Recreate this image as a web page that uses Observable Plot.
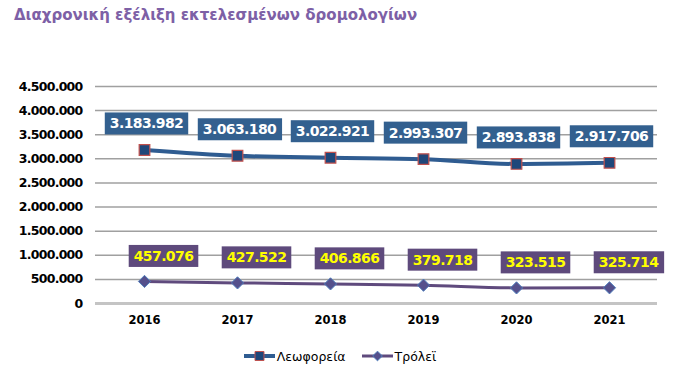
<!DOCTYPE html>
<html>
<head>
<meta charset="utf-8">
<script src="https://cdn.jsdelivr.net/npm/d3@7"></script>
<script src="https://cdn.jsdelivr.net/npm/@observablehq/plot@0.6"></script>
<style>
  html, body { margin: 0; padding: 0; background: #fff; }
  body { width: 695px; height: 366px; overflow: hidden; font-family: "DejaVu Sans", Verdana, sans-serif; }
  #title { height: 32px; line-height: 30px; padding-left: 14px; font-size: 15px; font-weight: bold; color: #7d60a6; white-space: nowrap; }
  #legend { height: 24px; padding-top: 8px; padding-right: 15px; display: flex; justify-content: center; align-items: center; gap: 16px; font-size: 12.5px; color: #000; }
  #legend .item { display: flex; align-items: center; gap: 2px; }
</style>
</head>
<body>
<div id="title">Διαχρονική εξέλιξη εκτελεσμένων δρομολογίων</div>
<div id="chart"></div>
<div id="legend"></div>
<script>
const years = ["2016", "2017", "2018", "2019", "2020", "2021"];
const busValues = [3183982, 3063180, 3022921, 2993307, 2893838, 2917706];
const trolleyValues = [457076, 427522, 406866, 379718, 323515, 325714];
const yTicks = [0, 500000, 1000000, 1500000, 2000000, 2500000, 3000000, 3500000, 4000000, 4500000];
const seriesNames = ["Λεωφορεία", "Τρόλεϊ"];

const busColor = "#2f5c91";
const busBox = "#33608f";
const trolleyColor = "#5f4a7d";
const trolleyBox = "#5e4a7c";

const locale = d3.formatLocale({decimal: ",", thousands: ".", grouping: [3], currency: ["", "€"]});
const fmt = locale.format(",d");

const bus = years.map((y, i) => ({year: y, value: busValues[i], series: seriesNames[0]}));
const trolley = years.map((y, i) => ({year: y, value: trolleyValues[i], series: seriesNames[1]}));

const chart = Plot.plot({
  width: 695,
  height: 304,
  marginTop: 54,
  marginBottom: 33,
  marginLeft: 95,
  marginRight: 38,
  style: {fontFamily: "'DejaVu Sans', Verdana, sans-serif", color: "#000", background: "#fff"},
  x: {type: "point", domain: years, padding: 0.5, label: null},
  y: {domain: [0, 4500000], label: null},
  marks: [
    Plot.ruleY(yTicks.filter(d => d > 0), {stroke: "#a0a0a0", strokeWidth: 1.5}),
    Plot.ruleY([0], {stroke: "#c4c4c4", strokeWidth: 3}),
    Plot.axisY(yTicks, {tickSize: 0, tickPadding: 13, tickFormat: fmt, fontSize: 12.5, fontWeight: "bold", label: null}),
    Plot.axisX(years, {tickSize: 0, tickPadding: 12, fontSize: 11.5, fontWeight: "bold", label: null}),
    Plot.line(bus, {x: "year", y: "value", stroke: busColor, strokeWidth: 4, curve: "monotone-x"}),
    Plot.line(trolley, {x: "year", y: "value", stroke: trolleyColor, strokeWidth: 3, curve: "monotone-x"}),
    Plot.dot(bus, {x: "year", y: "value", symbol: "square", r: 6, fill: "#1f477a", stroke: "#c0504d", strokeWidth: 1.2}),
    Plot.dot(trolley, {x: "year", y: "value", symbol: "diamond2", r: 5.5, fill: "#55508c", stroke: "#4f7fbd", strokeWidth: 1}),
    Plot.text(bus, {x: "year", y: "value", text: d => fmt(d.value), dx: 2, dy: -26, fill: "#fff", fontSize: 14, fontWeight: "bold"}),
    Plot.text(trolley, {x: "year", y: "value", text: d => fmt(d.value), dx: 19, dy: -25, fill: "#ffff00", fontSize: 14, fontWeight: "bold"})
  ]
});
document.getElementById("chart").appendChild(chart);

const yLabelSet = new Set(yTicks.map(fmt));
const busLabelSet = new Set(busValues.map(fmt));
const trolleyLabelSet = new Set(trolleyValues.map(fmt));

function addBox(t, color) {
  const b = t.getBBox();
  const padX = 5, padY = 3;
  const r = document.createElementNS("http://www.w3.org/2000/svg", "rect");
  r.setAttribute("x", b.x - padX);
  r.setAttribute("y", b.y - padY);
  r.setAttribute("width", b.width + 2 * padX);
  r.setAttribute("height", b.height + 2 * padY);
  r.setAttribute("fill", color);
  const tr = t.getAttribute("transform");
  if (tr) r.setAttribute("transform", tr);
  t.parentNode.insertBefore(r, t);
}
Array.from(chart.querySelectorAll("text")).forEach(t => {
  const s = t.textContent;
  if (yLabelSet.has(s)) t.setAttribute("letter-spacing", "-0.75");
  else if (busLabelSet.has(s)) { t.setAttribute("letter-spacing", "-0.6"); addBox(t, busBox); }
  else if (trolleyLabelSet.has(s)) { t.setAttribute("letter-spacing", "-0.6"); addBox(t, trolleyBox); }
});

// legend
const legendItems = [
  {name: seriesNames[0], stroke: busColor, sw: 4, symbol: d3.symbolSquare, size: 80, fill: "#1f477a", mstroke: "#c0504d"},
  {name: seriesNames[1], stroke: trolleyColor, sw: 3, symbol: d3.symbolDiamond2, size: 60, fill: "#55508c", mstroke: "#4f7fbd"}
];
const legend = d3.select("#legend");
legendItems.forEach(it => {
  const item = legend.append("div").attr("class", "item");
  const s = item.append("svg").attr("width", 31).attr("height", 14);
  s.append("line").attr("x1", 0).attr("x2", 31).attr("y1", 7).attr("y2", 7).attr("stroke", it.stroke).attr("stroke-width", it.sw);
  s.append("path").attr("d", d3.symbol(it.symbol, it.size)()).attr("transform", "translate(15.5,7)").attr("fill", it.fill).attr("stroke", it.mstroke);
  item.append("span").text(it.name);
});
</script>
</body>
</html>
